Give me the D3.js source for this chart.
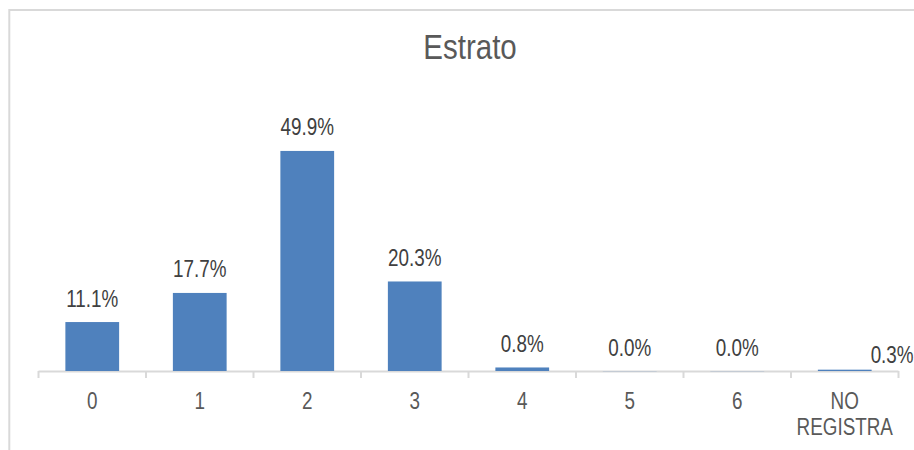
<!DOCTYPE html>
<html>
<head>
<meta charset="utf-8">
<script src="https://cdn.jsdelivr.net/npm/d3@7"></script>
<style>
  html, body { margin: 0; padding: 0; background: #fff; }
  svg { display: block; }
  text { font-family: "Liberation Sans Narrow", "Arial Narrow", "Liberation Sans", Arial, sans-serif; }
</style>
</head>
<body>
<svg id="chart" width="914" height="450"></svg>
<script>
const categories = ["0", "1", "2", "3", "4", "5", "6", "NO REGISTRA"];
const values = [11.1, 17.7, 49.9, 20.3, 0.8, 0.0, 0.0, 0.3];
const valueLabels = ["11.1%", "17.7%", "49.9%", "20.3%", "0.8%", "0.0%", "0.0%", "0.3%"];
const title = "Estrato";

const svg = d3.select("#chart");
const W = 914, H = 450;
const NARROW = 0.82;
const tf = (px, py) => `translate(${px},${py}) scale(${NARROW},1)`;

// frame
svg.append("rect").attr("x", 0).attr("y", 0).attr("width", W).attr("height", H).attr("fill", "#fff");
svg.append("rect").attr("x", 9.3).attr("y", 10).attr("width", 1000).attr("height", 1000)
  .attr("fill", "#fff").attr("stroke", "#d9d9d9").attr("stroke-width", 2);

const x = d3.scaleBand().domain(categories).range([38.5, 898.5]).paddingInner(0.5).paddingOuter(0.25);
const y = d3.scaleLinear().domain([0, 60]).range([371, 106.4]);

// title
svg.append("text").attr("transform", tf(470, 58.5)).attr("text-anchor", "middle")
  .attr("font-size", 36).attr("fill", "#595959").text(title);

// axis
const axisG = svg.append("g").attr("transform", `translate(0,${y(0)})`);
axisG.call(d3.axisBottom(x).tickSize(0).tickFormat(""));
axisG.select(".domain").remove();
axisG.append("line").attr("x1", 38.5).attr("x2", 898.5).attr("y1", 0.5).attr("y2", 0.5)
  .attr("stroke", "#d9d9d9").attr("stroke-width", 2);
const step = x.step();
const tickPos = d3.range(categories.length + 1).map(i => 38.5 + i * step);
axisG.selectAll("line.tk").data(tickPos).enter().append("line").attr("class", "tk")
  .attr("x1", d => d).attr("x2", d => d).attr("y1", 0).attr("y2", 7)
  .attr("stroke", "#d9d9d9").attr("stroke-width", 2);

// category labels
const catG = svg.append("g");
categories.forEach(c => {
  const words = c.split(" ");
  const t = catG.append("text").attr("transform", tf(x(c) + x.bandwidth() / 2, 409))
    .attr("text-anchor", "middle").attr("font-size", 23).attr("fill", "#595959");
  words.forEach((w, i) => {
    t.append("tspan").attr("x", 0).attr("dy", i === 0 ? 0 : 26).text(w);
  });
});

// bars
svg.append("g").selectAll("rect").data(values).enter().append("rect")
  .attr("x", (d, i) => x(categories[i]))
  .attr("y", d => y(d))
  .attr("width", x.bandwidth())
  .attr("height", d => Math.max(y(0) - y(d), 0.6))
  .attr("fill", "#4F81BD")
  .attr("fill-opacity", d => d === 0 ? 0.25 : 1);

// data labels
const last = values.length - 1;
svg.append("g").selectAll("text").data(values).enter().append("text")
  .attr("transform", (d, i) => i === last
    ? tf(x(categories[i]) + x.bandwidth() - 1, y(0) - 8)
    : tf(x(categories[i]) + x.bandwidth() / 2, y(d) - 15.5))
  .attr("text-anchor", (d, i) => i === last ? "start" : "middle")
  .attr("font-size", 23).attr("fill", "#404040")
  .text((d, i) => valueLabels[i]);
</script>
</body>
</html>
